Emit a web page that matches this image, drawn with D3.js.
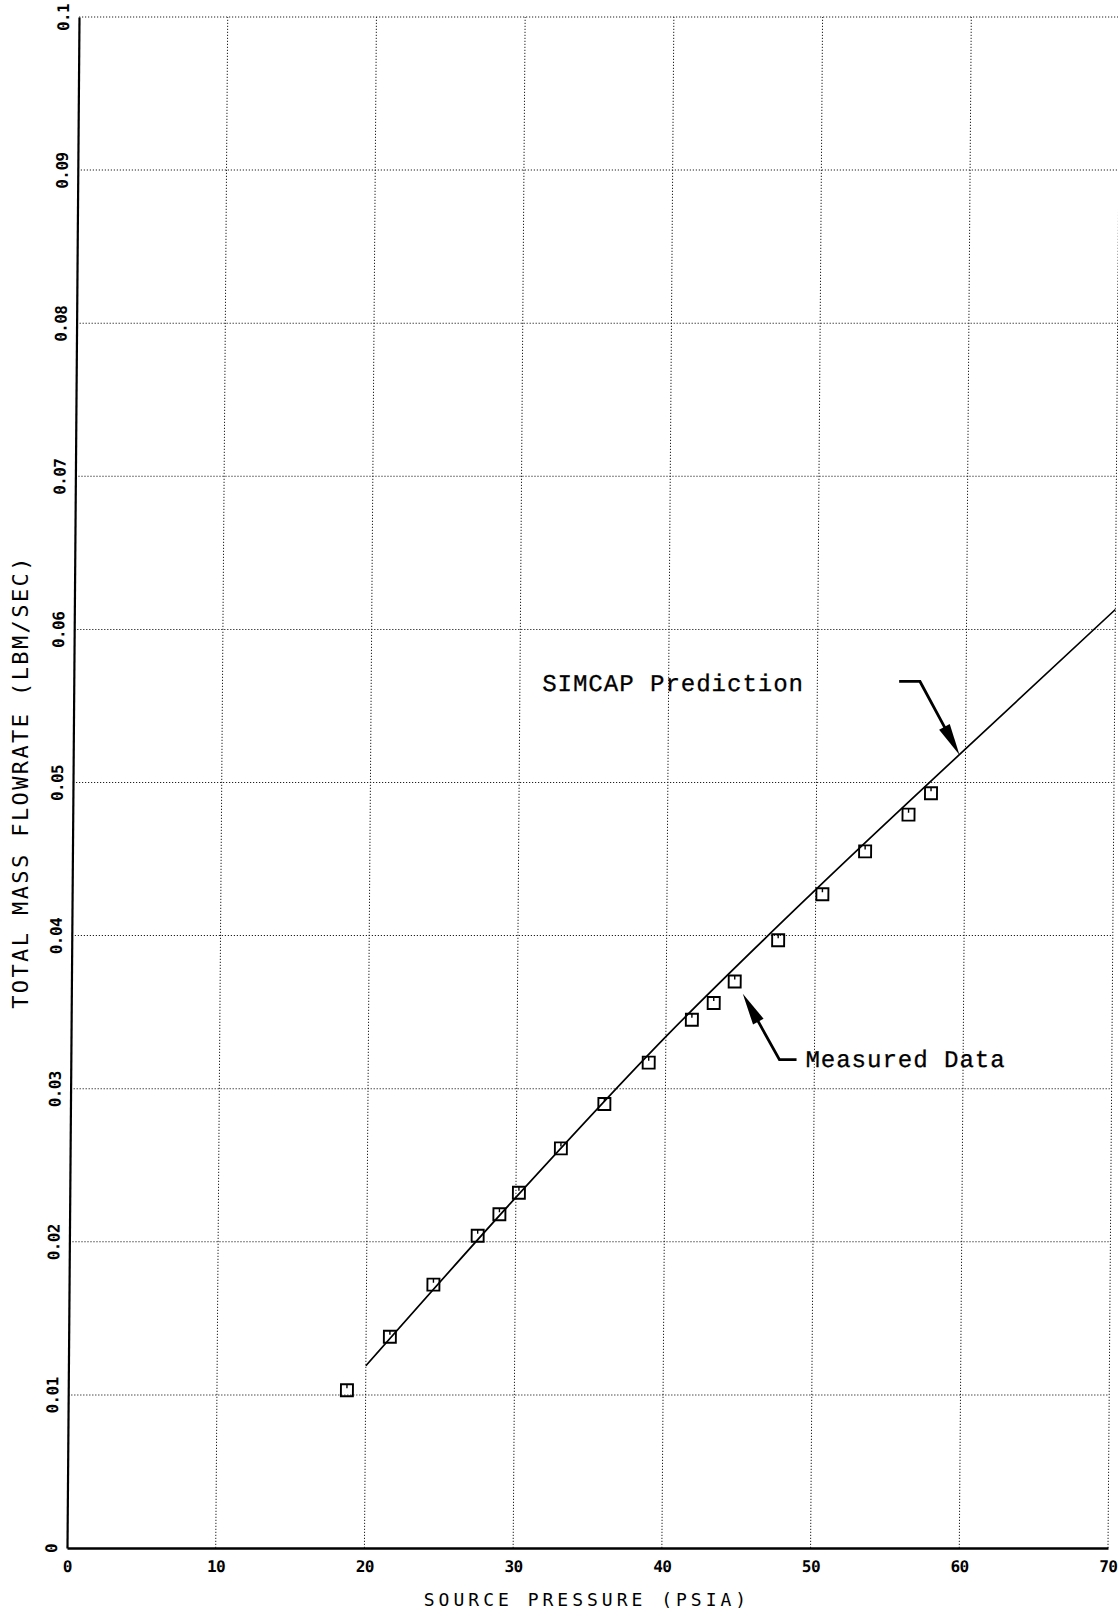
<!DOCTYPE html>
<html><head><meta charset="utf-8">
<script src="https://cdn.jsdelivr.net/npm/d3@7"></script>
<style>html,body{margin:0;padding:0;background:#fff;} svg{display:block;}</style>
</head><body><svg id="c" width="1118" height="1622"></svg>
<script>
const xTickValues = [0,10,20,30,40,50,60,70];
const xTickLabels = ["0","10","20","30","40","50","60","70"];
const yTickValues = [0,0.01,0.02,0.03,0.04,0.05,0.06,0.07,0.08,0.09,0.1];
const yTickLabels = ["0","0.01","0.02","0.03","0.04","0.05","0.06","0.07","0.08","0.09","0.1"];
const measuredPressure = [18.74,21.6,24.5,27.45,28.9,30.2,33.0,35.9,38.86,41.74,43.2,44.6,47.5,50.45,53.3,56.2,57.7];
const measuredFlow = [0.0103,0.0138,0.0172,0.0204,0.0218,0.0232,0.0261,0.0290,0.0317,0.0345,0.0356,0.0370,0.0397,0.0427,0.0455,0.0479,0.0493];
const predictionPressure = [20,30,40,50,60,70];
const predictionFlow = [0.0119,0.0229,0.0334,0.0430,0.0522,0.0613];
const xTitle = "SOURCE PRESSURE (PSIA)";
const yTitle = "TOTAL MASS FLOWRATE (LBM/SEC)";
const predictionLabel = "SIMCAP Prediction";
const measuredLabel = "Measured Data";
// annotation anchors in data units (pressure, flow)
const predictionLabelAt = [31.5, 0.0560];
const predictionArrow = [[55.5,0.0566],[56.9,0.0566],[59.6,0.0518]];
const measuredLabelAt = [49.4, 0.0314];
const measuredArrow = [[48.8,0.0319],[47.65,0.0319],[45.15,0.0362]];

const svg = d3.select("#c");
const x = d3.scaleLinear().domain([0,70]).range([67,1108]);
const y = d3.scaleLinear().domain([0,0.1]).range([1548,17]);
const skew = -Math.atan(12/1531)*180/Math.PI;
const g = svg.append("g").attr("transform",`translate(0,${y(0)}) skewX(${skew}) translate(0,${-y(0)})`);

const gridStyle = s => s.attr("stroke","#222").attr("stroke-width",1).attr("stroke-dasharray","1.2 1.8");
g.append("g").selectAll("line").data(xTickValues.filter(v=>v>0)).join("line")
  .attr("x1",d=>x(d)).attr("x2",d=>x(d)).attr("y1",y(0)).attr("y2",y(0.1)).call(gridStyle);
g.append("g").selectAll("line").data(yTickValues.filter(v=>v>0)).join("line")
  .attr("y1",d=>y(d)).attr("y2",d=>y(d)).attr("x1",x(0)).attr("x2",x(70)).call(gridStyle);

const tickFont = s => s.attr("font-family","DejaVu Sans Mono").attr("font-weight","bold").attr("font-size",16).attr("letter-spacing",-0.6).attr("fill","#000");
const xAxis = g.append("g").attr("transform",`translate(0,${y(0)})`)
  .call(d3.axisBottom(x).tickValues(xTickValues).tickFormat((d,i)=>xTickLabels[i]).tickSize(0).tickSizeOuter(0).tickPadding(13));
xAxis.select(".domain").attr("stroke","#000").attr("stroke-width",2.4);
xAxis.selectAll("text").call(tickFont);

const yAxis = g.append("g").attr("transform",`translate(${x(0)},0)`)
  .call(d3.axisLeft(y).tickValues(yTickValues).tickFormat((d,i)=>yTickLabels[i]).tickSize(0).tickSizeOuter(0));
yAxis.select(".domain").attr("stroke","#000").attr("stroke-width",2.2);
yAxis.selectAll("text").call(tickFont)
  .attr("x",0).attr("y",-10).attr("dy",0).attr("text-anchor","middle").attr("transform","rotate(-90)");

const line = d3.line().x(d=>x(d[0])).y(d=>y(d[1])).curve(d3.curveMonotoneX);
g.append("path").datum(predictionPressure.map((p,i)=>[p,predictionFlow[i]]))
  .attr("d",line).attr("fill","none").attr("stroke","#000").attr("stroke-width",1.7);

const pts = measuredPressure.map((p,i)=>[p,measuredFlow[i]]);
const mk = g.append("g").selectAll("g").data(pts).join("g").attr("transform",d=>`translate(${x(d[0])},${y(d[1])})`);
mk.append("rect").attr("x",-6).attr("y",-6).attr("width",12).attr("height",12).attr("fill","none").attr("stroke","#000").attr("stroke-width",1.9);
mk.append("line").attr("x1",0).attr("x2",0).attr("y1",-6).attr("y2",-2).attr("stroke","#000").attr("stroke-width",1.4);

function arrow(ptsData){
  const P = ptsData.map(d=>[x(d[0]),y(d[1])]);
  const T = P[P.length-1], Q = P[P.length-2];
  const dx=T[0]-Q[0], dy=T[1]-Q[1], len=Math.hypot(dx,dy);
  const ux=dx/len, uy=dy/len, L=32, Wd=12;
  const B=[T[0]-ux*L, T[1]-uy*L];
  const shaft = P.slice(0,-1).concat([[T[0]-ux*(L-4),T[1]-uy*(L-4)]]);
  g.append("path").attr("d",d3.line()(shaft)).attr("fill","none").attr("stroke","#000").attr("stroke-width",2.8).attr("stroke-linejoin","miter");
  g.append("path").attr("d",d3.line()([T,[B[0]-uy*Wd/2,B[1]+ux*Wd/2],[B[0]+uy*Wd/2,B[1]-ux*Wd/2]])+"Z").attr("fill","#000");
}
arrow(predictionArrow);
arrow(measuredArrow);

const annStyle = s => s.attr("font-family","Liberation Mono, monospace").attr("font-size",24).attr("letter-spacing",1).attr("fill","#000").attr("stroke","#000").attr("stroke-width",0.3);
g.append("text").attr("x",x(predictionLabelAt[0])).attr("y",y(predictionLabelAt[1])).text(predictionLabel).call(annStyle);
g.append("text").attr("x",x(measuredLabelAt[0])).attr("y",y(measuredLabelAt[1])).text(measuredLabel).call(annStyle);

svg.append("text").attr("x",587).attr("y",1606).attr("text-anchor","middle")
  .attr("font-family","DejaVu Sans Mono").attr("font-size",18).attr("letter-spacing",4).attr("fill","#000").text(xTitle);
svg.append("text").attr("transform","translate(28,782) rotate(-90)").attr("text-anchor","middle")
  .attr("font-family","DejaVu Sans Mono").attr("font-size",22).attr("letter-spacing",2.4).attr("fill","#000").text(yTitle);
</script></body></html>
